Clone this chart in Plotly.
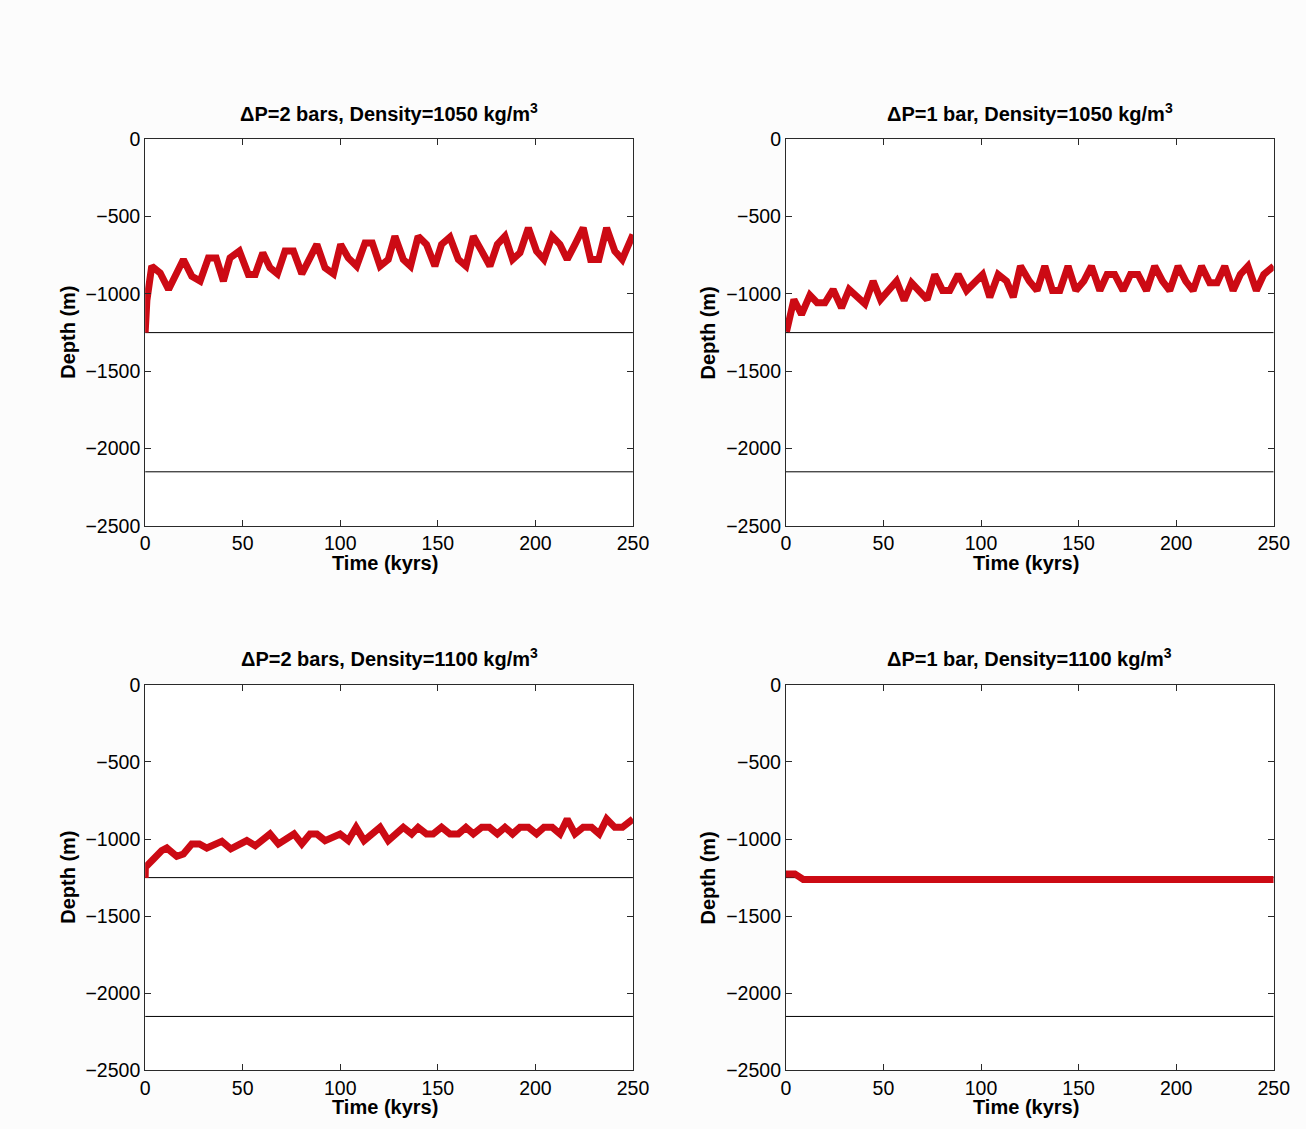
import plotly.graph_objects as go

W, H = 1306, 1129

# ---- data ----
TL_t = [0, 0.9, 3.4, 7.7, 12, 19.6, 23.9, 28.2, 32.4, 36.4, 40.1, 43.5, 48.3, 52.9, 56.4, 60.3, 64, 67.8, 71.7, 76, 80.3,
        88, 92.2, 96.5, 100.2, 104.1, 108.4, 112.7, 116.4, 120.4, 124.6, 128, 132.3, 136, 139.9, 144.2, 148.5,
        151.9, 156.2, 160.5, 164.4, 168.2, 172.5, 176.7, 180.5, 184.4, 188.3, 192.1, 196.4, 200.6, 204.4, 208.6,
        212.6, 216.3, 220.3, 224.5, 228.3, 232.5, 236.5, 240.7, 244.5, 250]
TL_d = [-1250, -1040, -820, -864, -971, -777, -885, -917, -767, -767, -917, -767, -723, -874, -874, -734, -831, -870, -723, -723,
        -870, -680, -831, -870, -680, -767, -820, -670, -670, -820, -777, -627, -777, -820, -627, -680, -820,
        -680, -633, -777, -820, -627, -723, -820, -680, -627, -777, -734, -573, -723, -777, -627, -680, -777,
        -680, -573, -777, -777, -573, -723, -777, -616]

TR_t = [0.3, 4.1, 8, 12.3, 16, 20, 24.2, 28.5, 32.4, 36.5, 40.5, 44.7, 48.5, 56.7, 60.6, 64.4, 72.4, 76.3, 80.3, 84,
        88.3, 92.6, 100.8, 104.5, 108.8, 113.1, 116.5, 120.2, 124.7, 128.7, 132.7, 136.6, 140.4, 144.6, 148.6,
        152.7, 156.6, 160.9, 164.6, 168.5, 172.8, 176.6, 180.5, 184.8, 189, 193, 196.7, 201, 204.9, 208.7, 213,
        217.2, 221, 224.9, 229.2, 232.9, 236.8, 241.1, 244.9, 250]
TR_d = [-1245, -1036, -1133, -1008, -1057, -1057, -971, -1090, -971, -1014, -1064, -917, -1036, -917, -1042, -928,
        -1036, -874, -978, -978, -874, -978, -874, -1021, -874, -917, -1021, -820, -917, -978, -820, -978, -978,
        -820, -978, -917, -820, -978, -874, -874, -978, -874, -874, -978, -820, -917, -978, -820, -917, -978,
        -820, -928, -928, -820, -978, -874, -820, -978, -874, -820]

BL_t = [0, 0.1, 4.3, 8.5, 11.1, 16.2, 19.6, 23.9, 27.8, 31.6, 39.3, 43.9, 52.1, 56.4, 64, 68.3, 76.3, 80.3, 84.5, 88,
        92.2, 99.9, 104.1, 108.1, 112.2, 120.4, 124.6, 132.3, 136.6, 139.9, 144.2, 147.6, 151.9, 156.2, 160.5,
        164.4, 168.2, 172.5, 176.4, 180.5, 184.4, 188.3, 192.1, 196.4, 200.6, 204.4, 208.6, 212.6, 216.3, 220.3,
        224.5, 228.8, 232.7, 236.5, 240.7, 244.6, 250]
BL_d = [-1252, -1183, -1129, -1075, -1058, -1112, -1097, -1032, -1032, -1058, -1015, -1064, -1010, -1043, -967, -1032,
        -967, -1032, -967, -967, -1010, -967, -1010, -924, -1010, -924, -1010, -924, -967, -924, -967, -967, -924,
        -967, -967, -924, -967, -924, -924, -967, -924, -967, -924, -924, -967, -924, -924, -967, -870, -967,
        -924, -924, -967, -870, -924, -924, -870]

BR_t = [0, 4.6, 8.9, 250]
BR_d = [-1226, -1226, -1262, -1262]

REF_LINES = [-1250, -2150]
X_RANGE = [0, 250]
Y_RANGE = [-2500, 0]
X_TICKS = [0, 50, 100, 150, 200, 250]
Y_TICKS = [0, -500, -1000, -1500, -2000, -2500]

TITLES = ["ΔP=2 bars, Density=1050 kg/m<sup>3</sup>",
          "ΔP=1 bar, Density=1050 kg/m<sup>3</sup>",
          "ΔP=2 bars, Density=1100 kg/m<sup>3</sup>",
          "ΔP=1 bar, Density=1100 kg/m<sup>3</sup>"]
SERIES = [(TL_t, TL_d), (TR_t, TR_d), (BL_t, BL_d), (BR_t, BR_d)]

# ---- layout: target pixel boxes of plot areas on the page ----
boxes = [(145, 633, 138, 525), (786, 1274, 138, 525),
         (145, 633, 684, 1070), (786, 1274, 684, 1070)]

# observed placement of the paper in the photographed page (measured)
OX, PW = 4.8, 1285.5
OY, PH = 9.6, 1108.0


def fx(px):
    return (px - OX) / PW


def fy(py):
    return 1 - (py - OY) / PH


FONT = "Liberation Sans, Arial, Helvetica, sans-serif"
RED = "#cc0a14"
AX = "#2a2a2a"
FS = 20
TFS = 19.5

fig = go.Figure()
layout = dict(width=W, height=H, margin=dict(l=0, r=0, t=0, b=0),
              paper_bgcolor="#fcfcfc", plot_bgcolor="white",
              showlegend=False, font=dict(family=FONT, size=FS, color="black"))
annotations = []

for i, ((x0, x1, y0, y1), (t, d), title) in enumerate(zip(boxes, SERIES, TITLES)):
    n = "" if i == 0 else str(i + 1)
    xa, ya = "x" + n, "y" + n
    xdom = [fx(x0), fx(x1)]
    ydom = [fy(y1), fy(y0)]
    for r in REF_LINES:
        fig.add_trace(go.Scatter(x=X_RANGE, y=[r, r], mode="lines",
                                 line=dict(color="black", width=1), xaxis=xa, yaxis=ya,
                                 hoverinfo="skip"))
    fig.add_trace(go.Scatter(x=t, y=d, mode="lines", line=dict(color=RED, width=7),
                             xaxis=xa, yaxis=ya))
    common = dict(showgrid=False, zeroline=False, showline=True, linecolor=AX, linewidth=1,
                  mirror="ticks", ticks="inside", ticklen=6, tickwidth=1, tickcolor=AX,
                  tickfont=dict(family=FONT, size=TFS, color="black"))
    layout["xaxis" + n] = dict(domain=xdom, range=X_RANGE, tickvals=X_TICKS, anchor=ya, **common)
    layout["yaxis" + n] = dict(domain=ydom, range=Y_RANGE, tickvals=Y_TICKS, anchor=xa, **common)
    cx = (x0 + x1) / 2
    annotations.append(dict(text="<b>" + title + "</b>", x=fx(cx), y=fy(y0 - 27),
                            xref="paper", yref="paper", showarrow=False,
                            xanchor="center", yanchor="middle",
                            font=dict(family=FONT, size=FS, color="black")))
    annotations.append(dict(text="<b>Time (kyrs)</b>", x=fx(cx - 4), y=fy(y1 + 37),
                            xref="paper", yref="paper", showarrow=False,
                            xanchor="center", yanchor="middle",
                            font=dict(family=FONT, size=FS, color="black")))
    annotations.append(dict(text="<b>Depth (m)</b>", x=fx(x0 - 78), y=fy((y0 + y1) / 2),
                            xref="paper", yref="paper", showarrow=False, textangle=-90,
                            xanchor="center", yanchor="middle",
                            font=dict(family=FONT, size=FS, color="black")))

layout["annotations"] = annotations
fig.update_layout(**layout)
fig.write_html("out.html", config={"displayModeBar": False},
               post_script="document.body.style.margin='0';document.body.style.background='#fcfcfc';")
